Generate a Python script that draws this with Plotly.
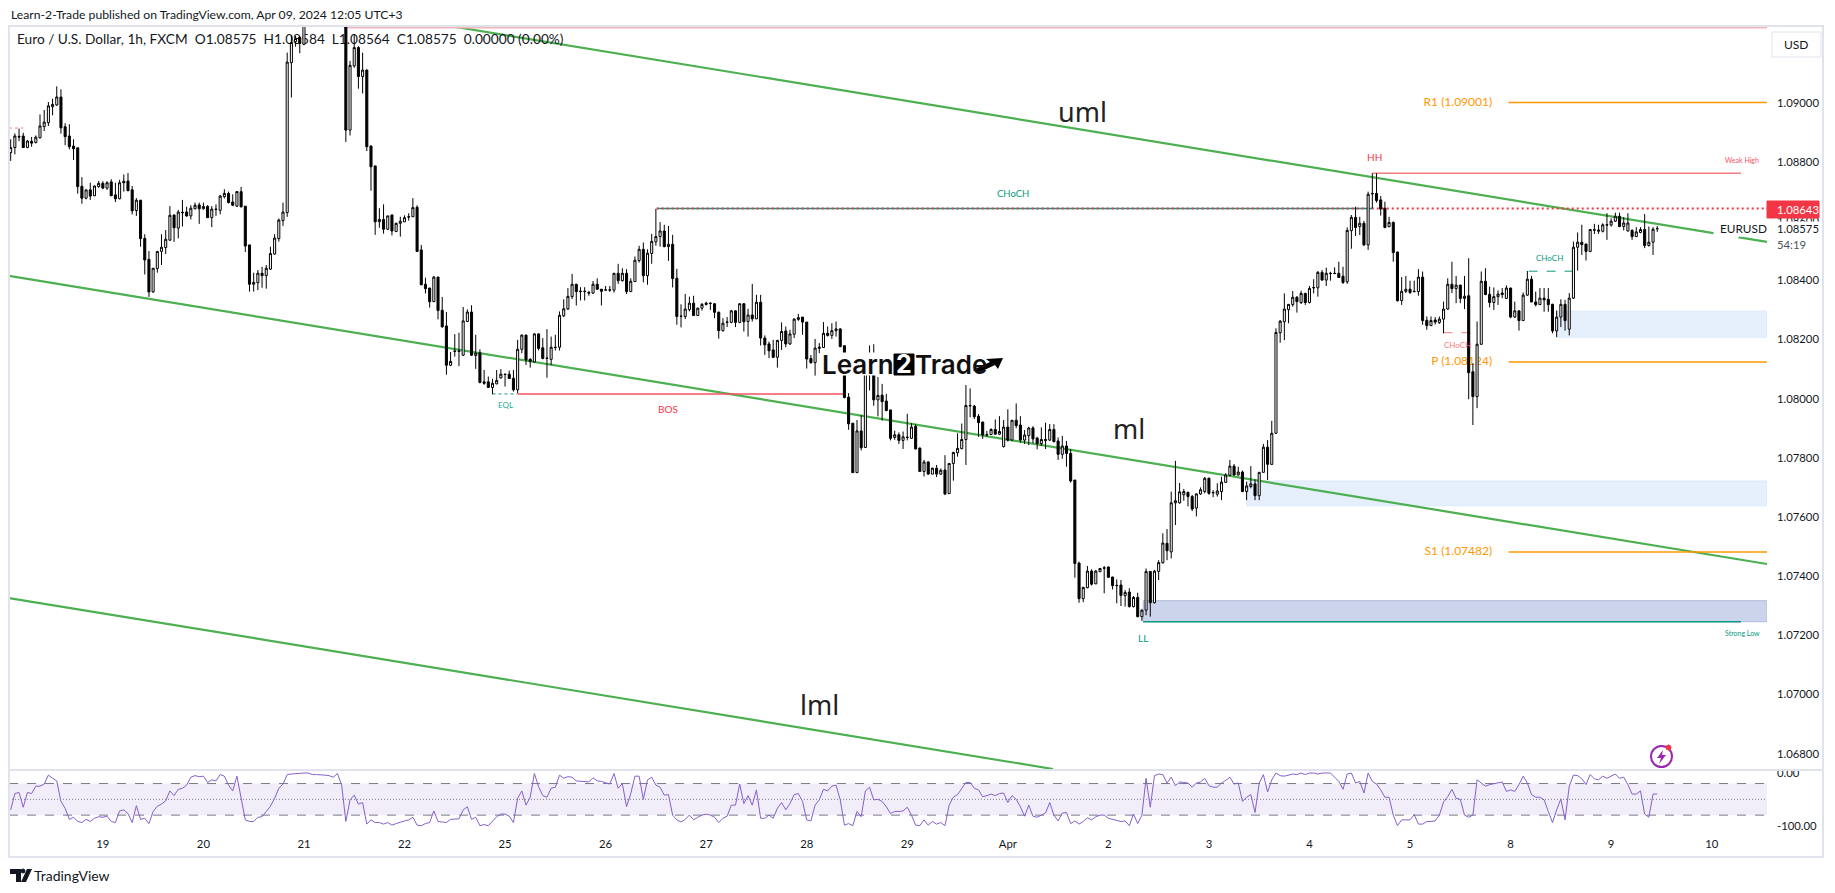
import plotly.graph_objects as go

# ---- prices are stored in 1e-5 points (108575 = 1.08575), one row per 10 bars ----
open_pts = [
108832,108849,108887,108888,108849,108870,108866,108882,108920,108933,
108987,108993,109020,108919,108888,108854,108848,108718,108678,108706,
108686,108717,108728,108712,108733,108689,108676,108735,108736,108706,
108636,108671,108542,108471,108361,108440,108498,108511,108536,108621,
108577,108630,108631,108618,108642,108655,108642,108650,108612,108641,
108637,108683,108694,108665,108651,108700,108651,108520,108387,108392,
108424,108416,108438,108489,108541,108602,108629,109136,109207,109221,
109198,109290,109340,109400,109360,109330,109300,109320,109340,109320,
109340,108908,109125,109187,109089,109111,108854,108787,108598,108606,
108573,108621,108565,108593,108598,108614,108615,108647,108503,108387,
108374,108328,108411,108299,108246,108113,108161,108161,108147,108261,
108293,108146,108155,108057,108057,108038,108050,108070,108083,108083,
108069,108030,108167,108215,108133,108124,108219,108172,108136,108133,
108174,108174,108280,108303,108345,108387,108362,108362,108359,108357,
108387,108370,108367,108367,108367,108424,108399,108424,108362,108396,
108467,108505,108416,108491,108530,108548,108567,108514,108522,108407,
108278,108278,108301,108323,108281,108306,108323,108323,108321,108292,
108230,108258,108258,108297,108258,108321,108261,108283,108270,108326,
108205,108185,108165,108140,108197,108229,108185,108218,108268,108276,
108259,108136,108122,108170,108173,108221,108214,108230,108236,108179,
108005,107917,107750,107891,107835,108081,108109,107996,108012,107992,
107962,107869,107878,107859,107870,107866,107906,107833,107754,107786,
107745,107765,107745,107759,107679,107781,107817,107831,107862,107977,
107975,107941,107921,107879,107879,107896,107880,107838,107904,107860,
107927,107911,107860,107875,107901,107867,107848,107858,107860,107896,
107857,107812,107840,107815,107725,107444,107324,107361,107417,107374,
107415,107428,107431,107397,107369,107370,107334,107346,107297,107328,
107263,107285,107416,107310,107416,107445,107511,107482,107648,107648,
107675,107683,107669,107630,107678,107686,107731,107683,107677,107686,
107717,107741,107772,107742,107752,107686,107703,107712,107672,107751,
107836,107778,107883,108223,108260,108301,108318,108343,108325,108356,
108325,108376,108375,108427,108401,108424,108424,108424,108414,108395,
108568,108613,108582,108593,108520,108694,108694,108672,108644,108582,
108596,108496,108332,108363,108370,108363,108362,108411,108265,108247,
108266,108257,108269,108303,108387,108372,108384,108339,108348,108091,
108007,108184,108397,108353,108325,108345,108357,108339,108374,108276,
108297,108264,108350,108404,108327,108318,108340,108336,108319,108229,
108276,108319,108235,108340,108512,108529,108523,108498,108571,108566,
108566,108588,108587,108600,108617,108582,108567,108569,108548,108562,
108572,108518,108529,108575]
high_pts = [
108877,108897,108913,108899,108875,108885,108890,108961,108976,109003,
109014,109056,109046,108931,108928,108877,108849,108749,108706,108730,
108721,108736,108735,108735,108742,108730,108740,108758,108763,108719,
108678,108672,108556,108499,108441,108499,108556,108570,108651,108623,
108638,108672,108649,108654,108663,108663,108663,108654,108651,108657,
108689,108708,108700,108691,108702,108716,108651,108520,108426,108435,
108446,108452,108514,108556,108609,108663,109170,109228,109226,109226,
109320,109360,109420,109420,109390,109360,109340,109350,109350,109340,
109360,109142,109232,109192,109170,109113,108857,108787,108644,108657,
108618,108623,108595,108615,108620,108627,108678,108654,108520,108409,
108375,108415,108412,108344,108293,108158,108218,108223,108310,108302,
108316,108216,108167,108097,108075,108067,108097,108100,108083,108095,
108097,108199,108217,108216,108137,108221,108221,108205,108235,108210,
108216,108295,108336,108374,108422,108388,108377,108377,108365,108398,
108407,108371,108381,108381,108425,108456,108441,108438,108407,108481,
108517,108528,108505,108557,108642,108597,108588,108584,108554,108439,
108319,108354,108345,108348,108308,108323,108328,108326,108323,108295,
108272,108276,108300,108298,108323,108323,108304,108388,108351,108351,
108214,108193,108199,108199,108258,108244,108233,108272,108287,108276,
108259,108148,108202,108188,108259,108244,108255,108261,108238,108181,
108019,107917,107928,107945,108114,108180,108184,108073,108050,108016,
107962,107892,107886,107889,107949,107917,107914,107835,107793,107788,
107767,107776,107764,107809,107781,107821,107883,107916,108046,108035,
107978,107948,107922,107891,107900,107930,107941,107928,107964,107928,
107984,107941,107894,107905,107907,107871,107903,107919,107914,107914,
107869,107874,107857,107829,107725,107449,107364,107434,107423,107421,
107426,107434,107432,107398,107389,107387,107353,107359,107333,107344,
107288,107426,107417,107421,107454,107545,107559,107686,107790,107715,
107695,107686,107675,107680,107700,107735,107733,107691,107714,107736,
107748,107793,107779,107770,107757,107719,107772,107727,107751,107847,
107860,107925,108238,108266,108356,108320,108364,108347,108365,108358,
108381,108404,108432,108435,108443,108429,108444,108463,108446,108579,
108621,108649,108615,108601,108700,108762,108762,108685,108666,108615,
108599,108497,108411,108415,108399,108399,108438,108430,108278,108278,
108276,108278,108328,108407,108463,108415,108385,108415,108475,108120,
108261,108430,108441,108379,108376,108366,108374,108383,108375,108328,
108298,108359,108432,108415,108362,108374,108374,108374,108321,108298,
108336,108334,108357,108531,108562,108588,108523,108574,108591,108588,
108593,108627,108610,108629,108629,108614,108627,108573,108580,108580,
108624,108582,108580,108584]
low_pts = [
108804,108826,108871,108848,108847,108852,108863,108880,108905,108922,
108958,108990,108896,108857,108843,108807,108693,108659,108674,108672,
108685,108713,108708,108706,108685,108665,108674,108700,108702,108623,
108618,108514,108420,108344,108358,108426,108452,108489,108533,108530,
108542,108582,108615,108606,108640,108591,108639,108611,108580,108618,
108623,108677,108660,108651,108648,108646,108496,108362,108362,108367,
108375,108372,108435,108487,108531,108584,108615,109018,109190,109168,
109195,109270,109330,109340,109300,109280,109270,109290,109300,109290,
108868,108890,109119,109048,109032,108837,108703,108554,108578,108558,
108570,108552,108564,108548,108597,108602,108614,108496,108384,108356,
108308,108327,108268,108240,108081,108110,108142,108110,108144,108259,
108144,108101,108052,108047,108037,108015,108049,108068,108041,108067,
108024,108019,108154,108114,108105,108122,108163,108133,108071,108114,
108163,108163,108276,108300,108337,108315,108332,108332,108348,108354,
108368,108315,108365,108361,108359,108388,108396,108354,108361,108395,
108460,108393,108385,108456,108517,108514,108512,108466,108376,108250,
108241,108269,108295,108280,108281,108298,108315,108300,108272,108203,
108227,108242,108255,108242,108255,108227,108210,108261,108269,108180,
108148,108137,108137,108105,108165,108174,108182,108205,108263,108216,
108102,108118,108078,108154,108171,108210,108202,108210,108174,108001,
107895,107750,107749,107825,107834,108028,107976,107940,107926,107957,
107859,107861,107847,107830,107859,107864,107829,107753,107737,107743,
107745,107735,107742,107674,107678,107723,107804,107829,107776,107937,
107931,107871,107864,107871,107877,107879,107877,107835,107855,107858,
107900,107851,107847,107843,107849,107829,107840,107830,107857,107852,
107793,107797,107770,107716,107395,107310,107312,107359,107368,107373,
107415,107342,107395,107355,107308,107299,107297,107294,107294,107261,
107249,107268,107263,107308,107387,107443,107454,107460,107573,107645,
107655,107636,107620,107602,107675,107680,107675,107667,107669,107657,
107716,107739,107740,107740,107684,107657,107697,107657,107657,107750,
107725,107776,107881,108189,108198,108255,108311,108291,108320,108317,
108322,108356,108345,108399,108381,108399,108422,108409,108388,108388,
108507,108550,108553,108516,108503,108644,108663,108619,108576,108579,
108463,108329,108317,108357,108354,108360,108348,108250,108233,108246,
108251,108253,108221,108300,108357,108323,108323,108303,107998,107911,
107968,108182,108350,108309,108300,108317,108340,108337,108272,108273,
108230,108263,108348,108326,108312,108317,108294,108294,108221,108208,
108242,108230,108214,108337,108433,108486,108467,108495,108557,108557,
108562,108537,108582,108598,108580,108569,108565,108537,108547,108559,
108509,108514,108486,108564]
close_pts = [
108849,108888,108885,108849,108871,108864,108884,108922,108935,108990,
108995,109020,108916,108886,108852,108845,108717,108678,108706,108685,
108719,108728,108712,108730,108686,108676,108730,108730,108703,108635,
108671,108541,108469,108361,108441,108498,108512,108539,108620,108578,
108631,108629,108618,108644,108654,108642,108650,108612,108641,108640,
108685,108694,108663,108654,108700,108649,108516,108387,108393,108424,
108416,108441,108491,108543,108604,108631,109138,109204,109218,109201,
109290,109340,109400,109360,109330,109300,109320,109340,109320,109340,
108908,109127,109187,109089,109111,108852,108784,108598,108606,108573,
108618,108567,108593,108600,108612,108615,108646,108498,108385,108372,
108328,108411,108298,108243,108113,108126,108160,108160,108263,108293,
108147,108154,108055,108052,108038,108052,108062,108083,108082,108068,
108030,108167,108215,108131,108126,108219,108170,108136,108137,108174,
108173,108282,108304,108346,108387,108362,108363,108363,108357,108387,
108370,108363,108368,108368,108424,108399,108424,108362,108397,108468,
108505,108416,108492,108532,108548,108567,108514,108522,108406,108278,
108279,108303,108323,108281,108306,108319,108319,108322,108292,108230,
108255,108259,108297,108258,108321,108260,108283,108270,108326,108205,
108182,108162,108140,108197,108227,108185,108219,108269,108274,108259,
108134,108122,108171,108174,108221,108214,108230,108236,108176,108004,
107915,107750,107891,107834,108103,108103,107996,108011,107990,107960,
107866,107878,107859,107871,107869,107904,107830,107754,107786,107745,
107765,107745,107758,107678,107781,107818,107832,107862,107977,107976,
107939,107919,107877,107878,107896,107880,107889,107904,107860,107927,
107909,107860,107877,107901,107864,107848,107862,107862,107896,107855,
107812,107840,107815,107722,107443,107324,107362,107417,107373,107417,
107426,107427,107396,107368,107368,107335,107345,107297,107328,107263,
107285,107416,107310,107417,107446,107512,107486,107648,107655,107685,
107686,107669,107627,107678,107692,107731,107680,107682,107688,107718,
107742,107772,107742,107752,107686,107705,107712,107672,107751,107836,
107778,107883,108224,108262,108303,108319,108343,108328,108356,108325,
108373,108375,108427,108401,108424,108423,108423,108410,108393,108569,
108613,108579,108593,108520,108691,108693,108670,108641,108579,108596,
108494,108331,108363,108370,108359,108362,108411,108264,108247,108264,
108259,108269,108303,108387,108372,108384,108339,108346,108088,108007,
108184,108397,108352,108325,108345,108354,108352,108374,108276,108297,
108264,108350,108404,108327,108318,108340,108334,108318,108229,108276,
108319,108264,108340,108512,108529,108521,108498,108572,108570,108570,
108588,108587,108600,108617,108582,108594,108594,108548,108564,108572,
108518,108529,108573,108575]

# Williams %R pane values
percent_r = [
-70,-39,-37,-65,-37,-39,-25,-25,-21,-4,
-10,-15,-54,-67,-88,-84,-92,-94,-88,-92,
-86,-83,-84,-82,-92,-94,-72,-70,-77,-94,
-62,-88,-86,-96,-73,-63,-59,-53,-34,-43,
-31,-29,-23,-8,-5,-7,-6,-18,-13,-15,
-3,-6,-23,-34,-6,-51,-89,-92,-92,-84,
-83,-73,-63,-48,-29,-21,-3,-2,-1,-1,
0,0,-3,-3,-3,-4,-5,-8,-1,-23,
-92,-51,-42,-59,-56,-97,-89,-94,-94,-97,
-94,-99,-96,-93,-91,-89,-84,-99,-100,-96,
-94,-72,-92,-93,-94,-88,-87,-87,-70,-64,
-88,-84,-100,-98,-100,-92,-83,-78,-78,-82,
-94,-48,-34,-61,-46,-1,-26,-43,-46,-29,
-27,-4,-10,-7,-8,-15,-16,-16,-17,-9,
-15,-16,-18,-21,-1,-29,-20,-64,-39,-6,
-6,-50,-13,-8,-23,-27,-42,-41,-80,-89,
-93,-88,-80,-89,-84,-80,-78,-80,-84,-94,
-86,-82,-61,-61,-21,-58,-43,-61,-32,-86,
-86,-80,-86,-67,-56,-70,-58,-41,-39,-54,
-89,-91,-61,-51,-31,-34,-25,-23,-51,-99,
-96,-100,-73,-83,-34,-27,-51,-50,-54,-64,
-77,-73,-73,-72,-65,-80,-99,
-100,-89,-99,-92,-97,-94,-100,-61,-46,-41,
-29,-18,-18,-29,-32,-45,-43,-40,-43,-39,
-38,-56,-43,-50,-64,-82,-61,-82,-84,-80,
-76,-56,-80,-91,-76,-75,-96,-91,-97,-92,
-85,-89,-83,-80,-80,-86,-88,-89,-92,-91,
-100,-78,-96,-80,-10,-65,-5,-2,-3,-19,
-8,-24,-17,-18,-19,-27,-19,-17,-10,-24,
-27,-27,-19,-14,-8,-21,-19,-54,-46,-41,
-75,-19,-3,-36,-13,0,-5,-6,-4,-2,
-3,0,-3,0,0,-2,0,0,0,-8,
-16,-31,-2,0,-19,-16,-38,0,-16,-21,
-32,-46,-46,-80,-100,-89,-89,-89,-79,
-97,-97,-92,-92,-91,-80,-55,-45,-31,-48,
-50,-80,-84,-80,-13,-19,-25,-22,-20,-19,
-17,-35,-32,-35,-22,-6,-19,-41,-46,-46,
-51,-73,-94,-70,-49,-89,-25,-4,-5,-11,
-22,-3,-11,-13,-6,-10,-6,-2,-10,-8,
-22,-40,-40,-34,-78,-84,-40,-40]

price_ticks = [1.09, 1.088, 1.086, 1.084, 1.082, 1.08, 1.078, 1.076, 1.074, 1.072, 1.07, 1.068]
day_ticks = [22, 46, 70, 94, 118, 142, 166, 190, 214, 238, 262, 286, 310, 334, 358, 382, 406]
day_labels = ["19", "20", "21", "22", "25", "26", "27", "28", "29", "Apr", "2", "3", "4", "5", "8", "9", "10"]
pivot_names = ["R1", "P", "S1"]
pivot_values = [1.09001, 1.08124, 1.07482]
last_price = 1.08575
line_price = 1.08643

W, H = 1835, 893
FONT = "Lato"
INK = "#131722"
TEAL = "#089981"
RED = "#f23645"
GREEN = "#4caf50"
ORANGE = "#ff9800"
FRAME = "#e0e3eb"
PURPLE = "#8560cc"
PX = lambda v: v / W
PY = lambda v: 1 - v / H

xr = [-0.4, 419.2]
yr = [1.06748, 1.09260]
rr = [-108.2, 5.7]

bars = list(range(len(close_pts)))
to_price = lambda seq: [v / 100000 for v in seq]

fig = go.Figure()

# labels that sit underneath the candles
fig.add_trace(go.Scatter(
    x=[353.6] * 3, y=pivot_values, mode="text", cliponaxis=False, hoverinfo="skip", showlegend=False,
    text=[f"{n} ({v:.5f})" for n, v in zip(pivot_names, pivot_values)],
    textposition="middle left", textfont=dict(family=FONT, size=12, color=ORANGE),
    xaxis="x", yaxis="y"))
fig.add_trace(go.Scatter(
    x=[1.5], y=[1.09210], mode="text", cliponaxis=False, hoverinfo="skip", showlegend=False,
    text=["Euro / U.S. Dollar, 1h, FXCM  O1.08575  H1.08584  L1.08564  C1.08575  0.00000 (0.00%)"],
    textposition="middle right", textfont=dict(family=FONT, size=13.7, color=INK),
    xaxis="x", yaxis="y"))

fig.add_trace(go.Candlestick(
    x=bars, open=to_price(open_pts), high=to_price(high_pts), low=to_price(low_pts), close=to_price(close_pts),
    increasing=dict(line=dict(color="#000000", width=1), fillcolor="#ffffff"),
    decreasing=dict(line=dict(color="#000000", width=1), fillcolor="#000000"),
    whiskerwidth=0, hoverinfo="skip", showlegend=False, xaxis="x3", yaxis="y3"))

fig.add_trace(go.Scatter(
    x=list(range(len(percent_r))), y=percent_r, mode="lines", hoverinfo="skip", showlegend=False,
    line=dict(color=PURPLE, width=1), xaxis="x2", yaxis="y2"))

def seg(x0, y0, x1, y1, color, width=1, dash="solid", layer="below", xref="x", yref="y"):
    return dict(type="line", x0=x0, y0=y0, x1=x1, y1=y1, xref=xref, yref=yref, layer=layer,
                line=dict(color=color, width=width, dash=dash))

def zone(x0, x1, y0, y1, fill, edge=None):
    return dict(type="rect", x0=x0, x1=x1, y0=y0, y1=y1, xref="x", yref="y", layer="below",
                fillcolor=fill, line=dict(color=edge or fill, width=1))

def box(l, t, r, b, fill="rgba(0,0,0,0)", edge=None, width=1, kind="rect"):
    return dict(type=kind, x0=PX(l), x1=PX(r), y0=PY(b), y1=PY(t), xref="paper", yref="paper", layer="above",
                fillcolor=fill, line=dict(color=edge or fill, width=width))

def poly(points, fill):
    d = "M " + " L ".join(f"{PX(a):.5f},{PY(b):.5f}" for a, b in points) + " Z"
    return dict(type="path", path=d, xref="paper", yref="paper", layer="above", fillcolor=fill, line=dict(width=0))

shapes = [
    zone(295, xr[1], 1.07638, 1.07722, "#e6f0fc", "#dce9fa"),
    zone(369, xr[1], 1.08208, 1.08296, "#e6f0fc", "#dce9fa"),
    zone(270.3, xr[1], 1.07246, 1.07317, "#cbd4ea", "#aebcdc"),
    seg(104.8, 1.0926, xr[1], 1.08530, GREEN, 2.2),
    seg(xr[0], 1.08415, xr[1], 1.07441, GREEN, 2.2),
    seg(xr[0], 1.07326, 248.8, 1.06748, GREEN, 2.2),
    seg(79.5, 1.09254, xr[1], 1.09254, "#f3b6bb", 1.5),
    seg(154.2, line_price, 325, line_price, TEAL, 1.5),
    seg(154.2, line_price, xr[1], line_price, RED, 2, "2px,3px"),
    seg(325, 1.08762, 413, 1.08762, "#f77c80", 1.5),
    seg(115, 1.08016, 121, 1.08016, TEAL, 1, "dot"),
    seg(121, 1.08016, 199, 1.08016, "#f7525f", 1.5),
    seg(270.3, 1.07246, 413, 1.07246, TEAL, 1.5),
    seg(362.3, 1.08431, 373, 1.08431, TEAL, 1, "dash"),
    seg(342, 1.08223, 349, 1.08223, "#f77c80", 1, "dash"),
    seg(xr[0], 1.08915, 3, 1.08915, "#f77c80", 1, "dot"),
    seg(357.5, pivot_values[0], xr[1], pivot_values[0], ORANGE, 1.5),
    seg(357.5, pivot_values[1], xr[1], pivot_values[1], ORANGE, 1.5),
    seg(357.5, pivot_values[2], xr[1], pivot_values[2], ORANGE, 1.5),
    dict(type="rect", x0=xr[0], x1=xr[1], y0=-80, y1=-20, xref="x2", yref="y2", layer="below",
         fillcolor="rgba(126,87,194,0.1)", line=dict(width=0)),
    seg(xr[0], -20, xr[1], -20, "#787b86", 1, "dash", xref="x2", yref="y2"),
    seg(xr[0], -50, xr[1], -50, "#787b86", 1, "1px,2px", xref="x2", yref="y2"),
    seg(xr[0], -80, xr[1], -80, "#787b86", 1, "dash", xref="x2", yref="y2"),
    # frame and pane divider
    box(9, 26, 1823, 857, edge=FRAME, width=2),
    dict(type="line", x0=PX(9), x1=PX(1823), y0=PY(770), y1=PY(770), xref="paper", yref="paper", layer="above",
         line=dict(color=FRAME, width=2)),
    # currency box
    box(1772, 32, 1821, 57, fill="#ffffff", edge=FRAME),
    # white plate behind the EURUSD label
    box(1714, 222, 1738, 238, fill="#ffffff"),
    # logo plate, "2" tile and arrow
    box(823, 353, 1003, 375, fill="#ffffff"),
    box(894, 354, 914, 375, fill="#000000"),
    poly([(973, 370), (990, 362), (986, 359), (1003, 358), (998, 369), (995, 365), (978, 373)], "#000000"),
    # price tags
    box(1767, 201, 1819, 218, fill=RED),
    # flash icon
    box(1651, 746, 1672, 767, edge="#9c27b0", width=2, kind="circle"),
    poly([(1663, 750), (1657, 758), (1661, 758), (1659, 764), (1666, 755), (1662, 755)], "#9c27b0"),
    box(1666, 745, 1671, 750, fill=RED, kind="circle"),
    # TradingView mark
    poly([(10, 869), (21, 869), (21, 882), (16, 882), (16, 874), (10, 874)], "#131722"),
    box(21, 869, 25, 873, fill="#131722", kind="circle"),
    poly([(27, 869), (32, 869), (26, 882), (21, 882)], "#131722"),
]

def note(text, x, y, size, color, anchor="center", bg=None, weight=None, family=FONT):
    return dict(text=text, x=PX(x), y=PY(y), xref="paper", yref="paper", xanchor=anchor, yanchor="middle",
                showarrow=False, bgcolor=bg, borderpad=0,
                font=dict(family=family, size=size, color=color, weight=weight))

annotations = [
    note("Learn-2-Trade published on TradingView.com, Apr 09, 2024 12:05 UTC+3", 10, 15, 12.2, INK, "left"),
    note("USD", 1796, 44, 12, INK),
    note("uml", 1082, 111, 27, "#222222", family="Noto Sans"),
    note("ml", 1129, 428, 27, "#222222", family="Noto Sans"),
    note("lml", 819, 704, 27, "#222222", family="Noto Sans"),
    note("CHoCH", 1013, 193, 9.5, TEAL),
    note("CHoCH", 1549, 258, 8, TEAL),
    note("CHoCH", 1457, 345, 8, "#f77c80"),
    note("BOS", 668, 409, 10, RED),
    note("EQL", 505, 405, 8, "#22ab94"),
    note("HH", 1374, 157, 10, RED),
    note("LL", 1143, 638, 10, TEAL),
    note("Weak High", 1742, 160, 7, "#f7525f"),
    note("Strong Low", 1742, 633, 7, TEAL),
    note("Learn", 858, 364, 26, "#111111", weight=600, family="Inter"),
    note("2", 904, 364, 25, "#ffffff", weight=700, family="Inter"),
    note("Trade", 951, 364, 26, "#111111", weight=600, family="Inter"),
    note("EURUSD", 1719, 229, 11.8, INK, "left", bg="#ffffff"),
    note(f"{last_price:.5f}", 1776, 229, 11.3, INK, "left", bg="#ffffff"),
    note("54:19", 1776, 244, 11.3, "#50535e", "left"),
    note(f"{line_price:.5f}", 1776, 209, 11.3, "#ffffff", "left"),
    note("TradingView", 33, 875, 14, INK, "left"),
]

main_dom = [PY(769), PY(26)]
rsi_dom = [PY(830), PY(770)]
x_dom = [PX(9), PX(1767)]
tick_font = dict(family=FONT, size=11.3, color=INK)

fig.update_layout(
    width=W, height=H, autosize=False, paper_bgcolor="#ffffff", plot_bgcolor="#ffffff",
    margin=dict(l=0, r=0, t=0, b=0, autoexpand=False), showlegend=False, hovermode=False,
    shapes=shapes, annotations=annotations,
    xaxis=dict(domain=x_dom, range=xr, visible=False, anchor="y", fixedrange=True, rangeslider=dict(visible=False)),
    yaxis=dict(domain=main_dom, range=yr, side="right", anchor="x", showgrid=False, zeroline=False, showline=False,
               tickvals=price_ticks, ticktext=[f"{v:.5f}" for v in price_ticks], ticks="",
               ticklabelstandoff=9, tickfont=tick_font, fixedrange=True),
    xaxis2=dict(domain=x_dom, range=xr, anchor="y2", side="bottom", showgrid=False, zeroline=False, showline=False,
                tickvals=day_ticks, ticktext=day_labels, ticks="", ticklabelstandoff=6, tickfont=tick_font, fixedrange=True),
    yaxis2=dict(domain=rsi_dom, range=rr, side="right", anchor="x2", showgrid=False, zeroline=False, showline=False,
                tickvals=[0, -100], ticktext=["0.00", "-100.00"], ticks="", ticklabelstandoff=9, tickfont=tick_font, fixedrange=True),
    xaxis3=dict(overlaying="x", range=xr, visible=False, anchor="y3", fixedrange=True, rangeslider=dict(visible=False)),
    yaxis3=dict(overlaying="y", range=yr, visible=False, anchor="x3", side="right", fixedrange=True),
)

fig.write_html("out.html", config={"displayModeBar": False},
               post_script="document.body.style.margin='0';document.body.style.overflow='hidden';")
